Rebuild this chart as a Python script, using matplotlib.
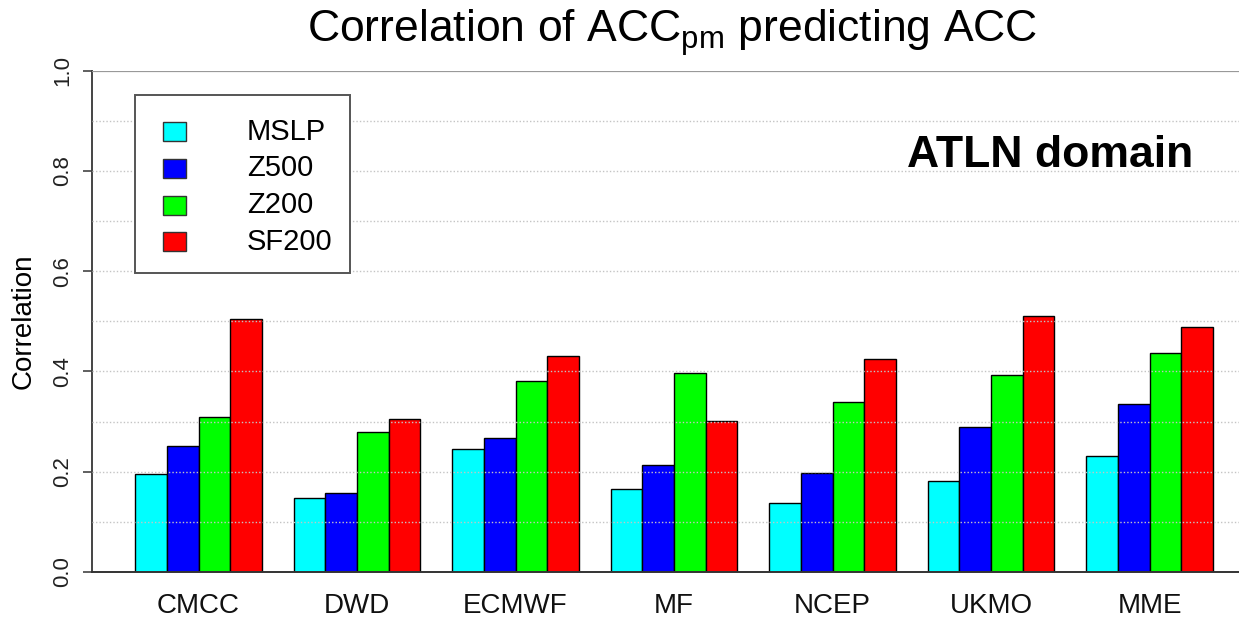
import matplotlib
matplotlib.use("Agg")
import matplotlib.pyplot as plt
from matplotlib.patches import Rectangle
import numpy as np

plt.rcParams['font.family'] = ['Liberation Sans', 'DejaVu Sans']
plt.rcParams['mathtext.fontset'] = 'custom'
plt.rcParams['mathtext.rm'] = 'Liberation Sans'
plt.rcParams['mathtext.it'] = 'Liberation Sans:italic'

# ---- data ----
models = ['CMCC', 'DWD', 'ECMWF', 'MF', 'NCEP', 'UKMO', 'MME']
series_names = ['MSLP', 'Z500', 'Z200', 'SF200']
mslp = [0.195, 0.148, 0.245, 0.166, 0.138, 0.182, 0.231]
z500 = [0.252, 0.157, 0.267, 0.213, 0.198, 0.289, 0.336]
z200 = [0.309, 0.279, 0.382, 0.397, 0.339, 0.393, 0.436]
sf200 = [0.505, 0.305, 0.431, 0.301, 0.424, 0.511, 0.489]
series_colors = ['#00FFFF', '#0000FF', '#00FF00', '#FF0000']
yticks = [0.0, 0.2, 0.4, 0.6, 0.8, 1.0]
ytick_labels = ['0.0', '0.2', '0.4', '0.6', '0.8', '1.0']
grid_levels = [0.1, 0.2, 0.3, 0.4, 0.5, 0.6, 0.7, 0.8, 0.9]

W, H = 1239, 617
fig = plt.figure(figsize=(W / 100, H / 100), dpi=100)

def fx(px):
    return px / W

def fy(py):
    return 1 - py / H

# axes: left at x=92px, y 0 at 572px, y 1 at 70.7px; xlim (-0.36, 36.36) -> right edge beyond the image
x_left, x_right = -0.36, 36.36
unit = 31.7
ax_left_px = 92
ax_right_px = ax_left_px + (x_right - x_left) * unit
ax = fig.add_axes([fx(ax_left_px), fy(572), (ax_right_px - ax_left_px) / W, (572 - 70.7) / H])
ax.set_xlim(x_left, x_right)
ax.set_ylim(0, 1)

all_series = [mslp, z500, z200, sf200]
n_groups = len(models)
group_starts = 1 + 5 * np.arange(n_groups)
for k, (vals, col) in enumerate(zip(all_series, series_colors)):
    ax.bar(group_starts + k + 0.5, vals, width=1.0, color=col, edgecolor='black',
           linewidth=1.0, zorder=2)

# dotted grid drawn over the bars
for g in grid_levels:
    ax.axhline(g, color='#c4c4c4', linestyle=(0, (1, 1.5)), linewidth=1.0, zorder=3)
ax.axhline(1.0, color='#999999', linewidth=1.6, zorder=3)

for s in ['top', 'right']:
    ax.spines[s].set_visible(False)
ax.spines['left'].set_color('#444444')
ax.spines['left'].set_linewidth(1.4)
ax.spines['bottom'].set_color('#333333')
ax.spines['bottom'].set_linewidth(1.4)
ax.spines['bottom'].set_zorder(4)

ax.set_yticks(yticks)
ax.set_yticklabels(ytick_labels, rotation=90, va='center', fontsize=16, color='#222222')
ax.tick_params(axis='y', length=6.5, width=1.2, color='#444444', pad=7)
ax.set_xticks(group_starts + 2)
ax.set_xticklabels(models, fontsize=20, color='#111111')
ax.tick_params(axis='x', length=0, pad=15)

fig.text(fx(24), fy(321), 'Correlation', rotation=90, ha='center', va='center', fontsize=20)

fig.text(fx(672), fy(42), r'Correlation of ACC$_{\mathrm{pm}}$ predicting ACC',
         ha='center', va='baseline', fontsize=32)

fig.text(fx(907), fy(167), 'ATLN domain', ha='left', va='baseline', fontsize=32,
         fontweight='bold')

# legend
ax.add_patch(Rectangle((fx(135), fy(273)), (350 - 135) / W, (273 - 95) / H,
                       transform=fig.transFigure, facecolor='white', edgecolor='#555555',
                       linewidth=1.4, zorder=5, clip_on=False))
patch_centers = [131.8, 168.0, 205.0, 241.7]
for name, col, pc in zip(series_names, series_colors, patch_centers):
    ax.add_patch(Rectangle((fx(162.5), fy(pc + 9.5)), 23 / W, 19 / H,
                           transform=fig.transFigure, facecolor=col, edgecolor='#333333',
                           linewidth=1.0, zorder=6, clip_on=False))
    fig.text(fx(247), fy(pc), name, ha='left', va='center', fontsize=21, zorder=7)

fig.savefig('out.png', dpi=100)
